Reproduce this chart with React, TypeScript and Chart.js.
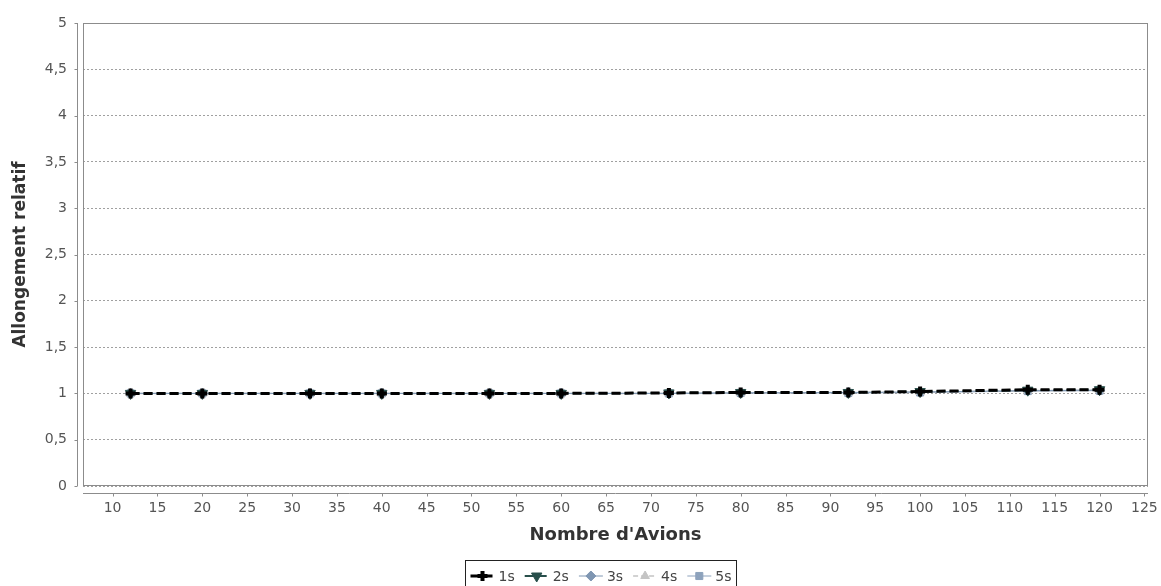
import React, { useEffect, useRef } from 'react';
import { Chart, registerables } from 'chart.js';
import { drawPoint } from 'chart.js/helpers';

Chart.register(...registerables);

const planes = [12, 20, 32, 40, 52, 60, 72, 80, 92, 100, 112, 120];
const s1 = [1.0, 1.0, 1.0, 1.0, 1.0, 1.0, 1.005, 1.01, 1.01, 1.02, 1.04, 1.04];
const s2 = [1.0, 1.0, 1.0, 1.0, 1.0, 1.0, 1.005, 1.01, 1.01, 1.02, 1.035, 1.04];
const s3 = [1.0, 1.0, 1.0, 1.0, 1.0, 1.0, 1.0, 1.005, 1.01, 1.015, 1.03, 1.035];
const s4 = [1.0, 1.0, 1.0, 1.0, 1.0, 1.0, 1.0, 1.005, 1.01, 1.015, 1.03, 1.035];
const s5 = [1.0, 1.0, 1.0, 1.0, 1.0, 1.0, 1.0, 1.005, 1.005, 1.01, 1.025, 1.03];
const seriesNames = ['1s', '2s', '3s', '4s', '5s'];
const xTickValues = [10, 15, 20, 25, 30, 35, 40, 45, 50, 55, 60, 65, 70, 75, 80, 85, 90, 95, 100, 105, 110, 115, 120, 125];
const yTickValues = [0, 0.5, 1, 1.5, 2, 2.5, 3, 3.5, 4, 4.5, 5];
const xTitle = "Nombre d'Avions";
const yTitle = 'Allongement relatif';

const FONT = '"DejaVu Sans", sans-serif';

const framePlugin = {
  id: 'frame',
  beforeDatasetsDraw(chart: any) {
    const { ctx, chartArea: a, scales } = chart;
    ctx.save();
    ctx.strokeStyle = '#8c8c8c';
    ctx.lineWidth = 1;
    ctx.setLineDash([]);
    ctx.strokeRect(a.left + 0.5, a.top + 0.5, a.right - a.left - 1, a.bottom - a.top - 1);
    const yx = Math.round(a.left - 6) + 0.5;
    ctx.beginPath();
    ctx.moveTo(yx, a.top);
    ctx.lineTo(yx, a.bottom);
    for (const v of yTickValues) {
      const y = Math.round(scales.y.getPixelForValue(v)) + 0.5;
      ctx.moveTo(yx, y);
      ctx.lineTo(yx - 3, y);
    }
    const xy = Math.round(a.bottom + 7) + 0.5;
    ctx.moveTo(a.left, xy);
    ctx.lineTo(a.right, xy);
    for (const v of xTickValues) {
      const x = Math.round(scales.x.getPixelForValue(v)) + 0.5;
      ctx.moveTo(x, xy);
      ctx.lineTo(x, xy + 3);
    }
    ctx.stroke();
    ctx.restore();
  },
};

const legendPlugin = {
  id: 'boxLegend',
  afterDraw(chart: any) {
    const ctx = chart.ctx;
    ctx.save();
    ctx.font = '14px ' + FONT;
    ctx.textBaseline = 'middle';
    const lineLen = 24;
    const gapText = 4;
    const gapItem = 10;
    const pad = 5;
    const dsList = chart.data.datasets;
    const widths = dsList.map((ds: any) => lineLen + gapText + ctx.measureText(ds.label).width);
    const total = widths.reduce((s: number, w: number) => s + w, 0) + gapItem * (dsList.length - 1) + pad * 2;
    const cx = 601;
    const left = Math.round(cx - total / 2) + 0.5;
    const top = 560.5;
    const cy = 576;
    ctx.strokeStyle = '#222';
    ctx.lineWidth = 1;
    ctx.strokeRect(left, top, total, 40);
    let x = left + pad;
    dsList.forEach((ds: any, i: number) => {
      ctx.save();
      ctx.strokeStyle = ds.borderColor;
      ctx.lineWidth = ds.borderWidth;
      ctx.setLineDash(ds.borderDash || []);
      ctx.beginPath();
      ctx.moveTo(x, cy);
      ctx.lineTo(x + lineLen, cy);
      ctx.stroke();
      ctx.setLineDash([]);
      ctx.fillStyle = ds.pointBackgroundColor;
      ctx.strokeStyle = ds.pointBorderColor;
      ctx.lineWidth = ds.pointBorderWidth;
      drawPoint(ctx, { pointStyle: ds.pointStyle, rotation: ds.pointRotation || 0, radius: ds.pointRadius, borderWidth: ds.pointBorderWidth }, x + lineLen / 2, cy);
      ctx.restore();
      ctx.fillStyle = '#444';
      ctx.textAlign = 'left';
      ctx.fillText(ds.label, x + lineLen + gapText, cy + 1);
      x += widths[i] + gapItem;
    });
    ctx.restore();
  },
};

function makeDataset(label: string, values: number[], color: string, dash: number[], width: number, style: string, radius: number, rotation = 0, pbw = 1) {
  return {
    label,
    data: planes.map((p, i) => ({ x: p, y: values[i] })),
    borderColor: color,
    borderWidth: width,
    borderDash: dash,
    pointStyle: style,
    pointRotation: rotation,
    pointRadius: radius,
    pointBackgroundColor: color,
    pointBorderColor: color,
    pointBorderWidth: pbw,
    pointHoverRadius: radius,
    fill: false,
    tension: 0,
  };
}

export default function App() {
  const ref = useRef<HTMLCanvasElement | null>(null);
  useEffect(() => {
    document.body.style.margin = '0';
    const datasets = [
      makeDataset(seriesNames[0], s1, '#000000', [9, 4], 3, 'cross', 5, 0, 4),
      makeDataset(seriesNames[1], s2, '#284f4b', [9, 4], 2, 'triangle', 6, 180, 1),
      makeDataset(seriesNames[2], s3, '#7f96b2', [], 1, 'rectRot', 5, 0, 1),
      makeDataset(seriesNames[3], s4, '#c4c4c4', [5, 3], 1.5, 'triangle', 5, 0, 1),
      makeDataset(seriesNames[4], s5, '#8da2bc', [], 1, 'rect', 5, 0, 1),
    ];
    const chart = new Chart(ref.current as HTMLCanvasElement, {
      type: 'line',
      data: { datasets } as any,
      plugins: [framePlugin, legendPlugin],
      options: {
        animation: false,
        responsive: false,
        maintainAspectRatio: false,
        layout: { padding: { top: 23, right: 13, bottom: 30, left: 0 } },
        plugins: { legend: { display: false }, tooltip: { enabled: false } },
        scales: {
          x: {
            type: 'linear',
            min: 6.7,
            max: 125.4,
            afterBuildTicks: (s: any) => {
              s.ticks = xTickValues.map((v) => ({ value: v }));
            },
            afterFit: (s: any) => {
              s.height = 70;
            },
            border: { display: false },
            grid: { drawOnChartArea: false, color: 'transparent', tickColor: 'transparent', tickLength: 12 },
            ticks: { color: '#555', font: { family: FONT, size: 14 }, padding: 2, maxRotation: 0, autoSkip: false },
            title: { display: true, text: xTitle, color: '#333', font: { family: FONT, size: 18, weight: 'bold' }, padding: { top: 10, bottom: 10 } },
          },
          y: {
            type: 'linear',
            min: 0,
            max: 5,
            afterBuildTicks: (s: any) => {
              s.ticks = yTickValues.map((v) => ({ value: v }));
            },
            afterFit: (s: any) => {
              s.width = 83;
            },
            border: { display: false, dash: [2, 2] },
            grid: { color: '#a0a0a0', tickColor: 'transparent', tickLength: 12, lineWidth: 1, drawTicks: true } as any,
            ticks: {
              color: '#555',
              font: { family: FONT, size: 14 },
              padding: 4,
              callback: (v: any) => String(v).replace('.', ','),
            },
            title: { display: true, text: yTitle, color: '#333', font: { family: FONT, size: 17, weight: 'bold' }, padding: { top: 10, bottom: 10 } },
          },
        },
      } as any,
    });
    return () => chart.destroy();
  }, []);
  return <canvas ref={ref} width={1161} height={586} style={{ display: 'block' }} />;
}
